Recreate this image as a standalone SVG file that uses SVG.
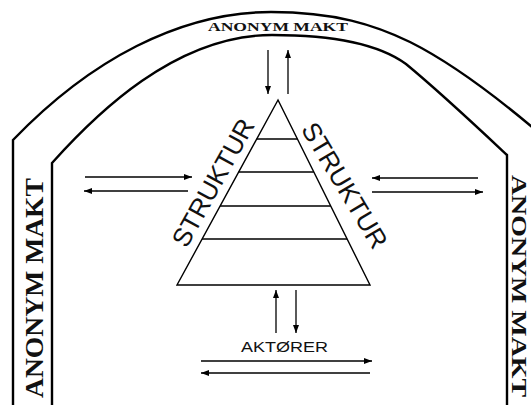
<svg xmlns="http://www.w3.org/2000/svg" width="531" height="405" viewBox="0 0 531 405">
<style>
.arch{fill:none;stroke:#000;stroke-width:2.4}
.ln{fill:none;stroke:#000;stroke-width:1.4}
.arr{fill:none;stroke:#000;stroke-width:1.3;marker-end:url(#ah)}
.serif{font-family:"Liberation Serif","Times New Roman",serif;font-weight:bold;fill:#111}
.sans{font-family:"Liberation Sans",Arial,sans-serif;fill:#111}
</style>
<defs>
<marker id="ah" markerUnits="userSpaceOnUse" markerWidth="9" markerHeight="6" refX="8" refY="3" orient="auto">
<path d="M0,0 L8,3 L0,6 z" fill="#000"/>
</marker>
</defs>
<rect width="531" height="405" fill="#fff"/>
<g id="frame">
<path class="arch" d="M13,405 V140 C 90,60 180,12 271,12 C 335,12 375,25 410,42 C 450,62 495,95 545,138 V405"/>
<path class="arch" d="M52,405 V163 C 95,115 175,35 272,35 C 335,35 380,45 406,64 C 440,92 475,125 507,155 V405"/>
<text class="serif" x="278" y="31" font-size="13" text-anchor="middle" textLength="140" lengthAdjust="spacingAndGlyphs">ANONYM MAKT</text>
<text class="serif" font-size="26" text-anchor="middle" textLength="220" lengthAdjust="spacingAndGlyphs" transform="translate(43,288) rotate(-90)">ANONYM MAKT</text>
<text class="serif" font-size="20" text-anchor="middle" textLength="222" lengthAdjust="spacingAndGlyphs" transform="translate(512,286) rotate(90)">ANONYM MAKT</text>
</g>
<g id="pyramid">
<path class="ln" d="M278,100 L177,285 L370,285 Z"/>
<path class="ln" d="M256.7,139 H297.4 M238.7,172 H313.8 M220.1,206 H330.7 M202.1,239 H347.1"/>
<text class="sans" font-size="26" text-anchor="middle" textLength="142" lengthAdjust="spacingAndGlyphs" transform="translate(221,187) rotate(-61)">STRUKTUR</text>
<text class="sans" font-size="26" text-anchor="middle" textLength="142" lengthAdjust="spacingAndGlyphs" transform="translate(337,190) rotate(59)">STRUKTUR</text>
</g>
<g id="actors">
<text class="sans" x="284.5" y="352" font-size="14" text-anchor="middle" textLength="87" lengthAdjust="spacingAndGlyphs">AKTØRER</text>
</g>
<g id="connectors">
<line class="arr" x1="268" y1="50" x2="268" y2="94"/>
<line class="arr" x1="288" y1="94" x2="288" y2="50"/>
<line class="arr" x1="85" y1="177" x2="192" y2="177"/>
<line class="arr" x1="188" y1="191" x2="84" y2="191"/>
<line class="arr" x1="478" y1="178" x2="372" y2="178"/>
<line class="arr" x1="372" y1="192" x2="483" y2="192"/>
<line class="arr" x1="276" y1="333" x2="276" y2="290"/>
<line class="arr" x1="296" y1="290" x2="296" y2="333"/>
<line class="arr" x1="201" y1="361" x2="372" y2="361"/>
<line class="arr" x1="370" y1="373" x2="201" y2="373"/>
</g>
</svg>
